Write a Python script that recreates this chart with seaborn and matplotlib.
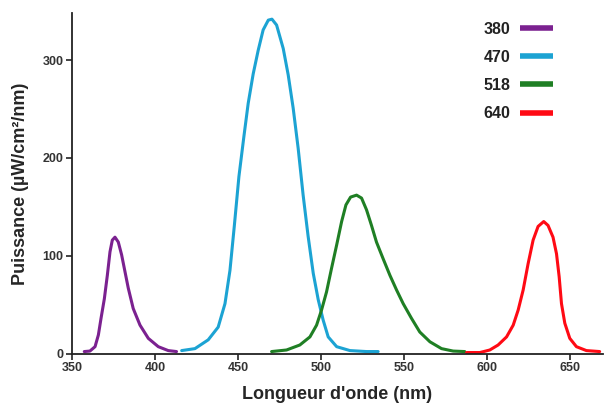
import matplotlib
matplotlib.use("Agg")
import matplotlib.pyplot as plt
import seaborn as sns
import pandas as pd

# ---- data ----
nm_380 = [357.4, 360.8, 363.9, 365.9, 367.5, 369.5, 371.3, 372.9, 374.3, 375.9, 377.9,
          379.9, 381.9, 383.9, 386.9, 391, 396, 402, 408, 413]
val_380 = [2, 2.5, 7, 19, 36, 56, 80, 104, 116, 119, 114,
           101, 84, 67, 46, 29, 15.5, 7, 3, 2]

nm_470 = [416.1, 424.1, 432.1, 438.1, 442.2, 445.2, 447.8, 450.6, 453.6, 456.2, 459.2,
          462.2, 465.2, 468.3, 470.5, 473.3, 477.3, 480.3, 483.3, 486.3, 489.3, 492.3,
          495.4, 498.4, 501.4, 504.4, 509.5, 517.5, 527.5, 534.5]
val_470 = [3, 5, 14, 27, 51, 85, 130, 181, 222, 256, 286,
           310, 331, 341, 342, 336, 312, 285, 251, 210, 162, 120,
           82, 55, 34, 17, 7, 3, 2, 2]

nm_518 = [470.3, 479.3, 487.3, 493.4, 497.4, 500.4, 503.4, 506.4, 509.5, 512.5, 515.1,
          517.9, 521.5, 524.5, 527.5, 530.5, 533.5, 537.5, 541.6, 545.6, 549.6, 554.6,
          559.6, 565.7, 572.7, 579.7, 586.7]
val_518 = [2, 3.6, 8.7, 17, 29, 44.5, 63, 87, 111, 135, 152,
           160, 162, 159, 147, 131, 114, 97, 80, 65, 51, 36,
           22, 12, 5, 2.5, 2]

nm_640 = [587.8, 595.8, 601.8, 606.8, 611.9, 615.9, 618.9, 621.9, 624.9, 627.9, 630.9,
          634.3, 636.9, 639.9, 642, 643.6, 645, 647, 650, 654, 660, 668]
val_640 = [1, 1, 3.6, 8.7, 17, 29, 44.5, 65, 92, 116, 130,
           135, 131, 119, 102, 78.5, 51, 31, 15.5, 7, 3, 2]

series = ["380", "470", "518", "640"]
colors = ["#7b2190", "#1ca3d3", "#1f7f24", "#ff0a14"]
x_ticks = [350, 400, 450, 500, 550, 600, 650]
y_ticks = [0, 100, 200, 300]

frames = []
for name, xs, ys in zip(series, [nm_380, nm_470, nm_518, nm_640],
                        [val_380, val_470, val_518, val_640]):
    frames.append(pd.DataFrame({"nm": xs, "val": ys, "led": name}))
df = pd.concat(frames, ignore_index=True)

sns.set_style("ticks")
plt.rcParams["font.family"] = ["Liberation Sans", "DejaVu Sans"]

fig = plt.figure(figsize=(6.06, 4.03), dpi=100)
ax = fig.add_axes([0.1188, 0.1228, 0.995 - 0.1188, 0.967 - 0.1228])

sns.lineplot(data=df, x="nm", y="val", hue="led", hue_order=series,
             palette=dict(zip(series, colors)), ax=ax, lw=2.2,
             estimator=None, sort=True)
for ln in ax.get_lines():
    ln.set_solid_joinstyle("round")

ax.set_xlim(350, 670)
ax.set_ylim(0, 348)
ax.set_xticks(x_ticks)
ax.set_yticks(y_ticks)
ax.tick_params(axis="both", labelsize=9, length=4, width=1.2, colors="#222222",
               labelcolor="#333333", pad=2)
for lab in ax.get_xticklabels() + ax.get_yticklabels():
    lab.set_fontweight("bold")
sns.despine(ax=ax)
for s in ["left", "bottom"]:
    ax.spines[s].set_linewidth(1.3)
    ax.spines[s].set_color("#222222")

ax.set_xlabel("Longueur d'onde (nm)", fontsize=13, fontweight="bold", labelpad=9)
ax.set_ylabel("Puissance (µW/cm²/nm)", fontsize=13, fontweight="bold", labelpad=10)

handles, labels = ax.get_legend_handles_labels()
leg = ax.legend(handles, labels, loc="upper right", bbox_to_anchor=(0.906, 0.975),
                frameon=False, markerfirst=False, handlelength=2.1,
                labelspacing=0.82, borderpad=0, borderaxespad=0,
                prop={"weight": "bold", "size": 11.5}, handletextpad=0.55)
for line in leg.get_lines():
    line.set_linewidth(4)
    line.set_solid_capstyle("butt")
for t in leg.get_texts():
    t.set_color("#222222")

fig.savefig("out.png", dpi=100)
